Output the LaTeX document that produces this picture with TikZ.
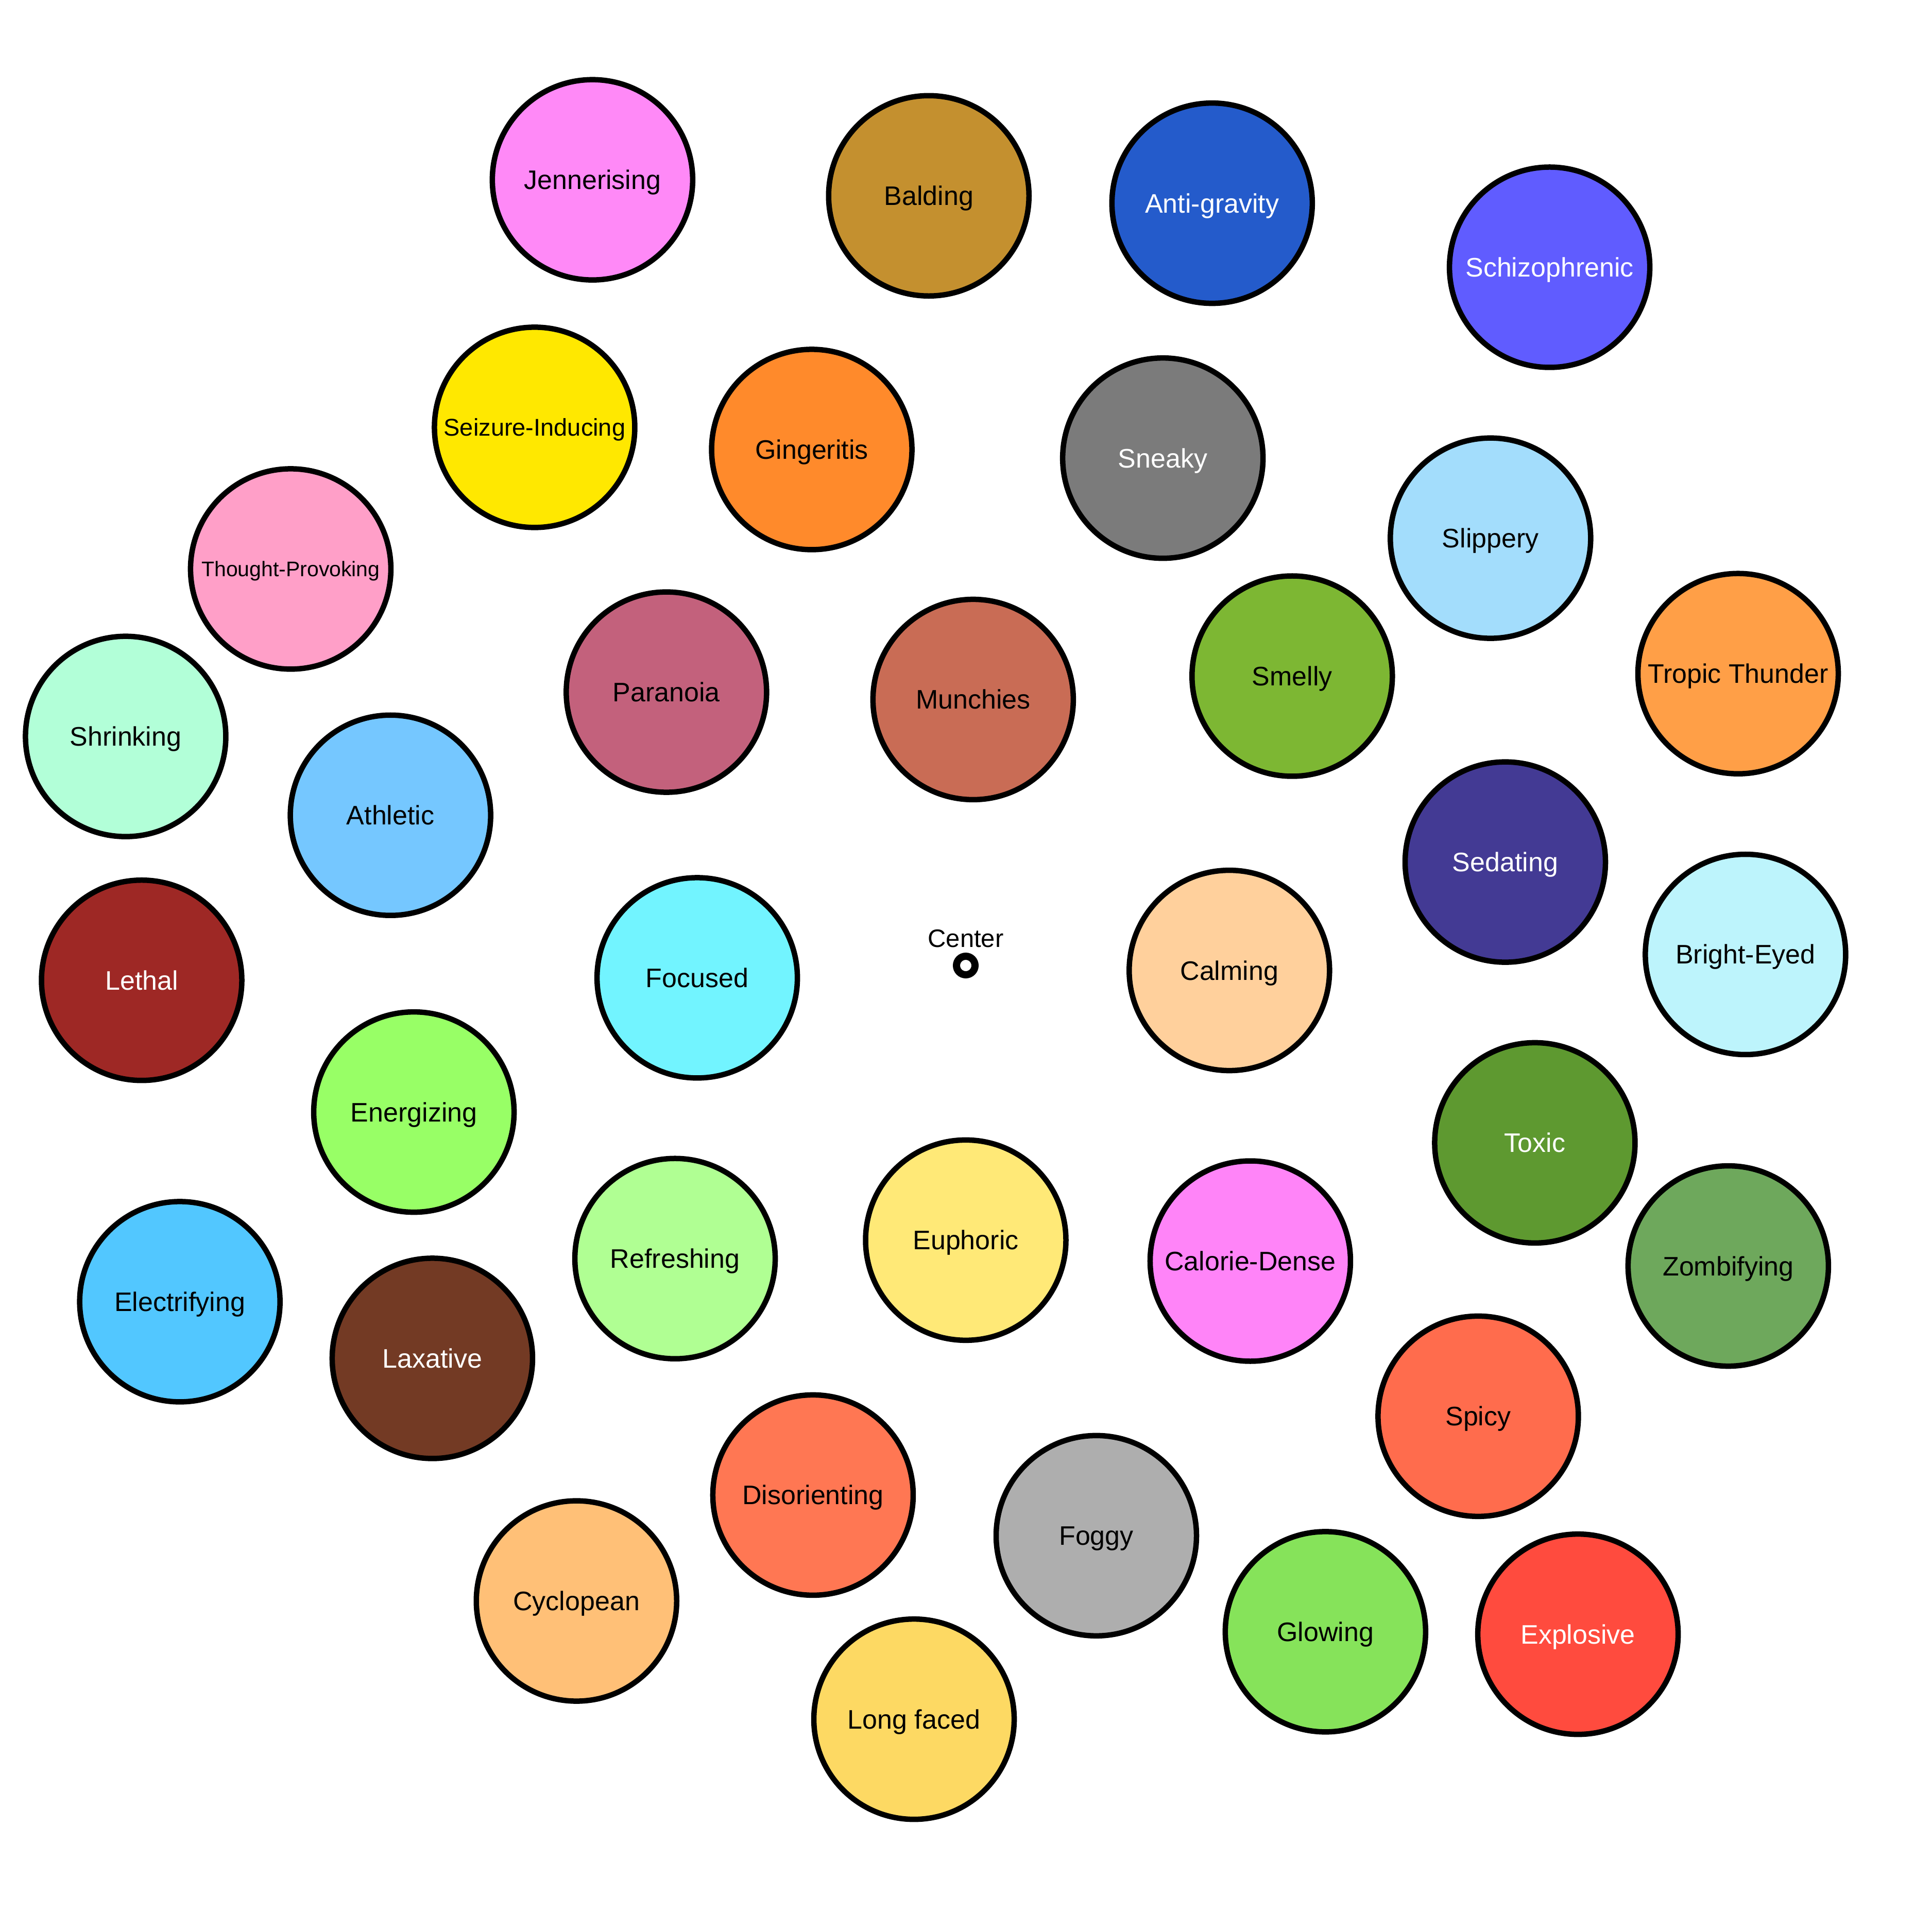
\documentclass[tikz,border=0pt]{standalone}
\usepackage{fontspec}
\setmainfont{Liberation Sans}
\definecolor{cJen}{HTML}{FF89F7}
\definecolor{cBal}{HTML}{C4902F}
\definecolor{cAnt}{HTML}{245BCB}
\definecolor{cSch}{HTML}{605CFF}
\definecolor{cSei}{HTML}{FFE800}
\definecolor{cGin}{HTML}{FF8A2B}
\definecolor{cSne}{HTML}{7B7B7B}
\definecolor{cSli}{HTML}{A3DDFC}
\definecolor{cTho}{HTML}{FF9FC8}
\definecolor{cPar}{HTML}{C3617C}
\definecolor{cMun}{HTML}{C96C55}
\definecolor{cSme}{HTML}{7DB733}
\definecolor{cTro}{HTML}{FF9F47}
\definecolor{cShr}{HTML}{B2FFD8}
\definecolor{cAth}{HTML}{75C7FF}
\definecolor{cSed}{HTML}{433A94}
\definecolor{cBri}{HTML}{BDF4FC}
\definecolor{cLet}{HTML}{9E2825}
\definecolor{cFoc}{HTML}{72F4FF}
\definecolor{cCal}{HTML}{FFD09C}
\definecolor{cEne}{HTML}{98FF66}
\definecolor{cTox}{HTML}{5E9930}
\definecolor{cZom}{HTML}{6EA85C}
\definecolor{cEle}{HTML}{52C7FF}
\definecolor{cLax}{HTML}{733A24}
\definecolor{cRef}{HTML}{B0FF93}
\definecolor{cEup}{HTML}{FFE977}
\definecolor{cCald}{HTML}{FF84F8}
\definecolor{cSpi}{HTML}{FF6C4D}
\definecolor{cDis}{HTML}{FF7753}
\definecolor{cFog}{HTML}{AEAEAE}
\definecolor{cCyc}{HTML}{FFC077}
\definecolor{cGlo}{HTML}{86E35A}
\definecolor{cExp}{HTML}{FF4B3E}
\definecolor{cLon}{HTML}{FDD963}
\tikzset{
  bub/.style={circle, draw=black, line width=10.5pt, minimum size=389pt, inner sep=0pt,
    font=\fontsize{52}{60}\selectfont, text height=37pt, text depth=0pt, text=black},
  wtext/.style={text=white},
  smallA/.style={font=\fontsize{47}{55}\selectfont, text height=33.6pt},
  smallB/.style={font=\fontsize{41}{48}\selectfont, text height=29.3pt},
  centermark/.style={circle, draw=black, line width=14pt, minimum size=36pt, inner sep=0pt, fill=white},
  centerlabel/.style={font=\fontsize{49}{56}\selectfont, text height=35pt, text depth=0pt, inner sep=0pt}
}
\begin{document}
\begin{tikzpicture}[x=2.3916pt, y=-2.3916pt]
\fill[white] (0,0) rectangle (1568,1568);
\useasboundingbox (0,0) rectangle (1568,1568);
\node[bub, fill=cJen] (jen) at (481,146) {Jennerising};
\node[bub, fill=cBal] (bal) at (754,159) {Balding};
\node[bub, fill=cAnt, wtext] (ant) at (984,165) {Anti-gravity};
\node[bub, fill=cSch, wtext] (sch) at (1258,217) {Schizophrenic};
\node[bub, fill=cSei, smallA] (sei) at (434,347) {Seizure-Inducing};
\node[bub, fill=cGin] (gin) at (659,365) {Gingeritis};
\node[bub, fill=cSne, wtext] (sne) at (944,372) {Sneaky};
\node[bub, fill=cSli] (sli) at (1210,437) {Slippery};
\node[bub, fill=cTho, smallB] (tho) at (236,462) {Thought-Provoking};
\node[bub, fill=cPar] (par) at (541,562) {Paranoia};
\node[bub, fill=cMun] (mun) at (790,568) {Munchies};
\node[bub, fill=cSme] (sme) at (1049,549) {Smelly};
\node[bub, fill=cTro] (tro) at (1411,547) {Tropic Thunder};
\node[bub, fill=cShr] (shr) at (102,598) {Shrinking};
\node[bub, fill=cAth] (ath) at (317,662) {Athletic};
\node[bub, fill=cSed, wtext] (sed) at (1222,700) {Sedating};
\node[bub, fill=cBri] (bri) at (1417,775) {Bright-Eyed};
\node[bub, fill=cLet, wtext] (let) at (115,796) {Lethal};
\node[bub, fill=cFoc] (foc) at (566,794) {Focused};
\node[bub, fill=cCal] (cal) at (998,788) {Calming};
\node[bub, fill=cEne] (ene) at (336,903) {Energizing};
\node[bub, fill=cTox, wtext] (tox) at (1246,928) {Toxic};
\node[bub, fill=cZom] (zom) at (1403,1028) {Zombifying};
\node[bub, fill=cEle] (ele) at (146,1057) {Electrifying};
\node[bub, fill=cLax, wtext] (lax) at (351,1103) {Laxative};
\node[bub, fill=cRef] (ref) at (548,1022) {Refreshing};
\node[bub, fill=cEup] (eup) at (784,1007) {Euphoric};
\node[bub, fill=cCald] (cald) at (1015,1024) {Calorie-Dense};
\node[bub, fill=cSpi] (spi) at (1200,1150) {Spicy};
\node[bub, fill=cDis] (dis) at (660,1214) {Disorienting};
\node[bub, fill=cFog] (fog) at (890,1247) {Foggy};
\node[bub, fill=cCyc] (cyc) at (468,1300) {Cyclopean};
\node[bub, fill=cGlo] (glo) at (1076,1325) {Glowing};
\node[bub, fill=cExp, wtext] (exp) at (1281,1327) {Explosive};
\node[bub, fill=cLon] (lon) at (742,1396) {Long faced};
\node[centermark] (ctr) at (784,784) {};
\node[centerlabel] (ctrlabel) at (784,762) {Center};
\end{tikzpicture}
\end{document}
